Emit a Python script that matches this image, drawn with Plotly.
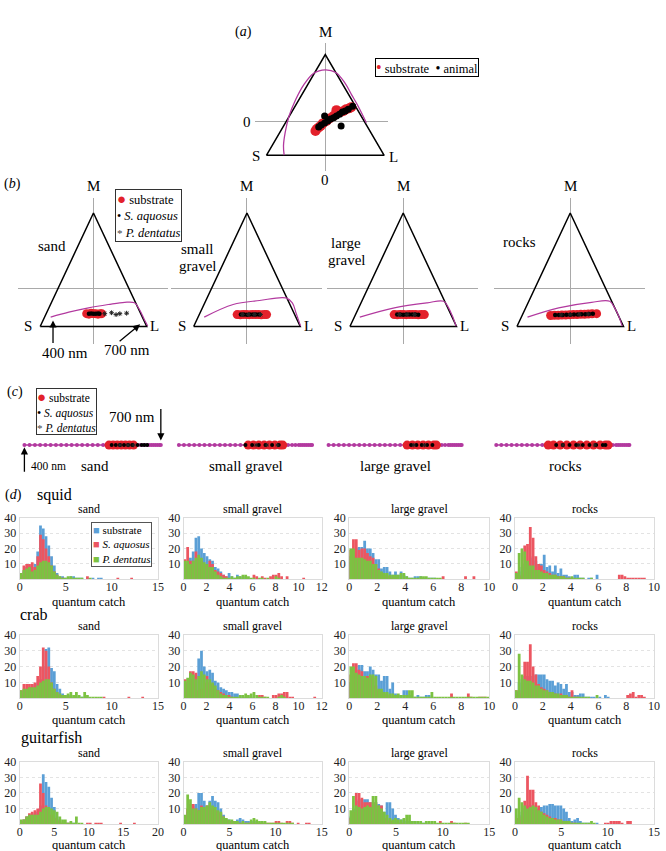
import plotly.graph_objects as go

W, H = 666, 851
SERIF = '"Liberation Serif", "Times New Roman", serif'

SUB_RED = "#e3212b"
LOCUS = "#b2399f"
HIST_SUB, HIST_AQU, HIST_DEN = "#5b9fd6", "#ec5661", "#7cc242"

# Maxwell triangle (S, M, L corners)
tri_x = [-0.7071, 0.0, 0.7071, -0.7071]
tri_y = [-0.4082, 0.8165, -0.4082, -0.4082]

# (a) all substrates / all animals
a_locus_x = [-0.494, -0.502, -0.482, -0.435, -0.355, -0.257, -0.139, 0.0, 0.126, 0.237, 0.315, 0.395, 0.454, 0.493]
a_locus_y = [-0.405, -0.293, -0.133, 0.069, 0.270, 0.451, 0.590, 0.631, 0.599, 0.470, 0.330, 0.189, 0.069, -0.012]
a_sub_x = [-0.118, -0.103, -0.08, -0.056, -0.03, 0.015, 0.05, 0.098, 0.134, 0.181, 0.22, 0.252, 0.29, 0.312]
a_sub_y = [-0.112, -0.088, -0.07, -0.052, -0.02, 0.008, 0.04, 0.069, 0.141, 0.117, 0.13, 0.153, 0.165, 0.177]
a_ani_x = [-0.079, -0.05, -0.008, 0.03, 0.063, 0.1, 0.134, 0.17, 0.205, 0.24, 0.276, 0.329, -0.008, 0.19]
a_ani_y = [-0.064, -0.04, -0.016, 0.01, 0.033, 0.05, 0.069, 0.09, 0.117, 0.13, 0.153, 0.189, 0.069, -0.052]

substrates = ["sand", "small gravel", "large gravel", "rocks"]

# (b) per substrate triangles
b_locus_x = [
    [-0.568, -0.327, -0.065, 0.196, 0.414, 0.545, 0.610, 0.675, 0.720],
    [-0.567, -0.183, 0.166, 0.516, 0.602, 0.65, 0.712],
    [-0.576, -0.118, 0.318, 0.537, 0.602, 0.65, 0.702],
    [-0.567, -0.153, 0.284, 0.524, 0.589, 0.64, 0.69],
]
b_locus_y = [
    [-0.307, -0.254, -0.207, -0.171, -0.147, -0.153, -0.225, -0.332, -0.404],
    [-0.307, -0.171, -0.128, -0.1, -0.153, -0.26, -0.404],
    [-0.307, -0.207, -0.153, -0.136, -0.207, -0.29, -0.404],
    [-0.307, -0.207, -0.147, -0.136, -0.207, -0.29, -0.404],
]
b_sub_x = [
    [-0.09, -0.06, -0.03, 0.0, 0.03, 0.06, 0.09, 0.11],
    [-0.13, -0.09, -0.05, -0.01, 0.03, 0.07, 0.11, 0.15, 0.19, 0.23, 0.26],
    [-0.12, -0.08, -0.04, 0.0, 0.04, 0.08, 0.12, 0.16, 0.2, 0.24, 0.28],
    [-0.26, -0.21, -0.16, -0.11, -0.06, -0.01, 0.04, 0.09, 0.14, 0.19, 0.24, 0.29, 0.35],
]
b_sub_y = [
    [-0.27, -0.275, -0.265, -0.27, -0.27, -0.275, -0.27, -0.27],
    [-0.28, -0.282, -0.278, -0.28, -0.281, -0.279, -0.28, -0.28, -0.282, -0.279, -0.28],
    [-0.28, -0.282, -0.278, -0.28, -0.281, -0.279, -0.28, -0.28, -0.282, -0.279, -0.28],
    [-0.29, -0.288, -0.287, -0.285, -0.284, -0.282, -0.28, -0.279, -0.277, -0.276, -0.274, -0.272, -0.27],
]
b_aqu_x = [
    [-0.06, -0.03, 0.0, 0.03, 0.06, 0.08],
    [-0.08, -0.04, 0.0, 0.04, 0.08, 0.12, 0.16],
    [-0.08, -0.04, 0.0, 0.04, 0.08, 0.12, 0.16, 0.2],
    [-0.2, -0.15, -0.1, -0.05, 0.0, 0.05, 0.1, 0.15, 0.2, 0.25, 0.3],
]
b_aqu_y = [
    [-0.272, -0.268, -0.27, -0.271, -0.269, -0.27],
    [-0.28, -0.279, -0.281, -0.28, -0.279, -0.28, -0.28],
    [-0.28, -0.279, -0.281, -0.28, -0.279, -0.28, -0.28, -0.281],
    [-0.285, -0.284, -0.283, -0.282, -0.281, -0.28, -0.278, -0.277, -0.276, -0.274, -0.272],
]
b_den_x = [
    [0.15, 0.24, 0.30, 0.35, 0.44],
    [-0.06, 0.02, 0.1, 0.18],
    [-0.05, 0.05, 0.15],
    [-0.12, 0.0, 0.12, 0.24],
]
b_den_y = [
    [-0.27, -0.26, -0.28, -0.27, -0.265],
    [-0.28, -0.28, -0.28, -0.28],
    [-0.28, -0.28, -0.28],
    [-0.283, -0.28, -0.277, -0.274],
]

# (c) one-dimensional (dichromat) view, positions along the locus line
c_locus = [0, 0.038, 0.077, 0.115, 0.154, 0.192, 0.231, 0.269, 0.308, 0.346, 0.385, 0.423,
           0.462, 0.5, 0.538, 0.577, 0.615, 0.654, 0.69, 0.725, 0.76, 0.79, 0.82, 0.85,
           0.875, 0.9, 0.915, 0.93, 0.945, 0.96, 0.975, 0.99, 1.0]
c_sub = [
    [0.62, 0.65, 0.68, 0.71, 0.74, 0.77, 0.80],
    [0.52, 0.56, 0.6, 0.64, 0.68, 0.72, 0.76, 0.78],
    [0.59, 0.63, 0.67, 0.71, 0.75, 0.79, 0.81],
    [0.39, 0.43, 0.48, 0.53, 0.58, 0.63, 0.68, 0.73, 0.78, 0.82, 0.84],
]
c_aqu = [
    [0.64, 0.67, 0.7, 0.73, 0.76, 0.79, 0.83, 0.86, 0.88, 0.9],
    [0.5, 0.55, 0.6, 0.65, 0.7, 0.75],
    [0.62, 0.66, 0.7, 0.74, 0.78],
    [0.45, 0.5, 0.55, 0.6, 0.65, 0.7, 0.75, 0.8, 0.82],
]
c_den = [
    [0.7, 0.76, 0.8],
    [0.58, 0.66, 0.74],
    [0.64, 0.72],
    [0.5, 0.62, 0.74],
]

# (d) histograms of quantum catch: counts per bin, bins start at 0
sq_sand_sub = [3, 5, 8, 9, 8, 10, 18, 35, 33, 28, 22, 15, 9, 4, 2, 2, 1, 1, 2, 2, 1, 1, 1, 0, 1, 0, 1, 0, 1, 1]
sq_sand_aqu = [3, 9, 10, 10, 11, 8, 15, 29, 26, 20, 15, 9, 5, 3, 1, 1, 0, 0, 1, 0, 0, 0, 0, 0, 2, 0, 0, 0, 0, 0, 0, 0, 0, 0, 0, 1, 0, 0, 0, 0, 1]
sq_sand_den = [4, 6, 7, 8, 5, 6, 9, 11, 12, 12, 11, 9, 5, 3, 2, 1, 1, 2, 2, 1, 1, 1, 1, 0, 0, 1]
sq_sgr_sub = [8, 10, 14, 18, 27, 28, 20, 17, 15, 13, 12, 8, 7, 5, 3, 2, 4, 2, 1, 3, 2, 1, 2, 1]
sq_sgr_aqu = [13, 21, 12, 12, 18, 14, 12, 10, 9, 12, 10, 6, 5, 4, 3, 2, 0, 0, 0, 0, 0, 0, 0, 0, 0, 3, 2, 0, 2, 1, 0, 2, 3, 3, 4, 2, 0, 2, 0, 0, 0, 0, 0, 1]
sq_sgr_den = [12, 12, 10, 12, 14, 16, 14, 11, 10, 8, 8, 5, 3, 2, 1, 1, 1, 2, 1, 2, 2, 3, 3, 2, 1, 1, 0, 1, 1, 0, 1, 0, 0, 2, 1]
sq_lgr_sub = [15, 18, 20, 21, 21, 25, 20, 20, 17, 13, 13, 7, 8, 8, 5, 3, 5, 3, 5, 3, 2, 1, 1, 2, 2, 2, 1, 1, 1, 1, 1]
sq_lgr_aqu = [19, 26, 26, 19, 20, 20, 17, 15, 14, 10, 7, 4, 3, 2, 2, 1, 1, 0, 0, 0, 0, 0, 0, 0, 0, 0, 0, 0, 0, 0, 0, 0, 0, 2, 0, 0, 0, 0, 0, 0, 0, 2, 0, 0, 2]
sq_lgr_den = [20, 20, 14, 14, 14, 13, 12, 12, 10, 10, 6, 5, 4, 4, 3, 3, 3, 3, 4, 4, 2, 1, 1, 1, 1, 2, 2, 2, 1, 1, 1, 1, 1]
sq_rock_sub = [3, 5, 8, 10, 12, 14, 15, 12, 10, 10, 16, 8, 9, 5, 9, 4, 7, 3, 3, 2, 1, 3, 3, 1, 1, 0, 1, 1, 0, 3]
sq_rock_aqu = [5, 2, 3, 22, 23, 34, 27, 15, 10, 9, 6, 5, 4, 3, 3, 2, 2, 2, 1, 1, 1, 0, 0, 0, 0, 0, 0, 0, 0, 0, 0, 0, 0, 0, 0, 0, 0, 3, 3, 2, 1, 1, 1, 1, 1, 1, 1]
sq_rock_den = [4, 17, 20, 18, 12, 9, 9, 6, 6, 5, 4, 4, 3, 3, 3, 2, 2, 2, 1, 1, 2, 1, 1, 1, 1, 0, 0, 1]

cr_sand_sub = [3, 5, 6, 7, 8, 9, 10, 12, 20, 31, 32, 19, 17, 9, 6, 3, 2, 2, 2, 1, 1, 1, 1, 1, 1]
cr_sand_aqu = [5, 9, 9, 9, 9, 10, 14, 20, 32, 30, 20, 10, 6, 4, 2, 2, 1, 1, 1, 0, 0, 0, 0, 0, 0, 0, 0, 0, 0, 0, 1, 0, 0, 0, 0, 0, 0, 0, 0, 1, 0, 0, 0, 0, 1]
cr_sand_den = [5, 6, 6, 7, 7, 7, 8, 10, 11, 12, 12, 10, 6, 4, 3, 2, 2, 3, 4, 2, 4, 2, 1, 4, 2, 1, 1, 1, 1, 1]
cr_sgr_sub = [8, 10, 12, 14, 15, 25, 30, 20, 17, 18, 16, 11, 10, 7, 6, 5, 4, 4, 3, 3, 2, 1, 1, 1, 1]
cr_sgr_aqu = [12, 12, 17, 17, 16, 5, 6, 10, 14, 10, 9, 6, 5, 4, 3, 2, 2, 1, 0, 0, 0, 0, 0, 0, 0, 0, 0, 2, 2, 1, 0, 0, 2, 2, 3, 3, 4, 4, 1, 1, 0, 0, 0, 0, 0, 0, 0, 1]
cr_sgr_den = [11, 13, 16, 15, 12, 14, 17, 15, 12, 12, 10, 8, 5, 3, 2, 2, 1, 1, 1, 1, 2, 2, 3, 2, 3, 4, 2, 1, 1, 1, 1, 0, 0, 0, 1, 2, 1]
cr_lgr_sub = [10, 15, 18, 21, 21, 17, 17, 20, 18, 15, 15, 11, 14, 14, 6, 10, 3, 2, 2, 5, 5, 2, 1, 1, 2, 1, 1, 2, 2, 1]
cr_lgr_aqu = [15, 22, 22, 18, 17, 12, 14, 14, 13, 8, 5, 4, 3, 2, 1, 1, 0, 0, 0, 0, 0, 0, 0, 0, 0, 0, 0, 0, 0, 0, 0, 0, 0, 0, 0, 0, 3, 0, 0, 0, 0, 0, 3, 1, 0, 0, 1, 1, 1]
cr_lgr_den = [20, 20, 16, 15, 14, 14, 13, 15, 15, 14, 6, 6, 4, 4, 3, 3, 2, 3, 2, 2, 2, 5, 5, 1, 1, 1, 1, 1, 1, 4, 1, 1, 1, 1, 1, 1, 1, 1, 1, 1, 1, 1, 1, 1, 1, 1, 1, 1, 1, 1]
cr_rock_sub = [4, 10, 12, 14, 14, 14, 14, 15, 15, 15, 15, 12, 11, 11, 8, 10, 9, 6, 9, 4, 4, 2, 2, 3, 3, 1, 1, 1, 1, 0, 1, 0, 2, 1]
cr_rock_aqu = [5, 3, 5, 23, 23, 34, 20, 15, 9, 7, 6, 5, 4, 3, 3, 2, 3, 2, 2, 1, 5, 1, 1, 0, 0, 0, 0, 0, 0, 0, 0, 0, 0, 0, 0, 0, 0, 0, 0, 0, 2, 3, 4, 1, 2, 2, 1]
cr_rock_den = [5, 28, 15, 12, 11, 11, 10, 8, 8, 6, 5, 5, 4, 4, 3, 3, 2, 2, 2, 1, 1, 1, 1, 1, 1, 1, 1, 0, 0, 2]

gf_sand_sub = [2, 3, 5, 6, 6, 7, 8, 12, 32, 27, 24, 17, 11, 5, 3, 1, 1, 1, 1, 1]
gf_sand_aqu = [2, 3, 5, 7, 8, 9, 10, 26, 20, 12, 10, 6, 4, 3, 2, 1, 1, 1, 1, 0, 0, 0, 0, 0, 1, 1, 0, 1, 1, 1, 0, 0, 0, 0, 0, 0, 1, 0, 0, 0, 0, 1]
gf_sand_den = [3, 3, 5, 6, 6, 6, 6, 8, 10, 11, 11, 10, 9, 8, 5, 3, 3, 1, 2, 1, 5, 1, 1]
gf_sgr_sub = [4, 8, 10, 12, 13, 20, 20, 15, 12, 15, 18, 15, 14, 10, 6, 3, 3, 2, 2, 3, 4, 3, 2, 2, 2, 2, 2, 1, 1, 1]
gf_sgr_aqu = [5, 10, 13, 13, 10, 9, 12, 10, 12, 12, 10, 9, 8, 7, 5, 3, 2, 2, 2, 1, 1, 1, 1, 1, 1, 1, 1, 1, 1, 1, 1, 1, 1, 2, 2, 1, 0, 2, 2, 1, 0, 1, 0, 0, 1, 1]
gf_sgr_den = [6, 19, 16, 10, 10, 9, 11, 11, 12, 14, 12, 11, 9, 8, 5, 4, 3, 3, 2, 2, 1, 2, 1, 1, 3, 4, 3, 2, 2, 2, 1, 1, 1, 1, 1, 1, 1, 1, 1, 1]
gf_lgr_sub = [5, 10, 15, 16, 16, 16, 16, 14, 14, 14, 13, 12, 8, 14, 14, 10, 6, 4, 3, 3, 2, 2, 2, 2, 1, 1, 1, 1, 0, 1]
gf_lgr_aqu = [4, 8, 20, 20, 17, 14, 14, 14, 14, 14, 12, 12, 4, 3, 2, 2, 1, 1, 1, 1, 0, 0, 0, 0, 0, 0, 0, 0, 0, 0, 0, 0, 2, 0, 0, 0, 2, 1, 0, 0, 0, 1]
gf_lgr_den = [9, 18, 12, 11, 10, 11, 12, 11, 18, 18, 12, 10, 8, 6, 4, 3, 4, 3, 3, 4, 6, 6, 2, 2, 2, 2, 1, 2, 2, 2, 2, 1, 1, 1, 1, 1, 1, 1, 1, 1, 1, 1, 1]
gf_rock_sub = [4, 6, 8, 10, 12, 12, 12, 10, 10, 11, 12, 12, 13, 13, 12, 12, 12, 10, 8, 4, 2, 3, 4, 2, 1, 1, 1, 0, 0, 1]
gf_rock_aqu = [4, 3, 5, 15, 31, 22, 22, 14, 12, 8, 7, 6, 5, 4, 4, 3, 3, 2, 2, 1, 1, 1, 0, 0, 0, 0, 0, 0, 0, 0, 0, 0, 1, 1, 2, 2, 2, 2, 1, 0, 2, 2]
gf_rock_den = [10, 17, 14, 12, 10, 11, 12, 11, 9, 8, 6, 5, 4, 4, 3, 3, 3, 2, 2, 2, 1, 1, 1, 1, 1, 1, 1, 2, 1]

animals = ["squid", "crab", "guitarfish"]
bin_width = [[0.3, 0.24, 0.2, 0.2], [0.3, 0.24, 0.2, 0.2], [0.4, 0.3, 0.3, 0.3]]
x_max = [[15, 12, 10, 10], [15, 12, 10, 10], [20, 15, 15, 15]]
x_step = [[5, 2, 2, 2], [5, 2, 2, 2], [5, 5, 5, 5]]
y_ticks = [10, 20, 30, 40]

hists = [
    [(sq_sand_sub, sq_sand_aqu, sq_sand_den), (sq_sgr_sub, sq_sgr_aqu, sq_sgr_den),
     (sq_lgr_sub, sq_lgr_aqu, sq_lgr_den), (sq_rock_sub, sq_rock_aqu, sq_rock_den)],
    [(cr_sand_sub, cr_sand_aqu, cr_sand_den), (cr_sgr_sub, cr_sgr_aqu, cr_sgr_den),
     (cr_lgr_sub, cr_lgr_aqu, cr_lgr_den), (cr_rock_sub, cr_rock_aqu, cr_rock_den)],
    [(gf_sand_sub, gf_sand_aqu, gf_sand_den), (gf_sgr_sub, gf_sgr_aqu, gf_sgr_den),
     (gf_lgr_sub, gf_lgr_aqu, gf_lgr_den), (gf_rock_sub, gf_rock_aqu, gf_rock_den)],
]

fig = go.Figure()
axis_count = 0


def new_axes(box, xrange, yrange, xstyle=None, ystyle=None):
    global axis_count
    axis_count += 1
    s = "" if axis_count == 1 else str(axis_count)
    x0, x1, y0, y1 = box
    base = dict(showgrid=False, zeroline=False, showticklabels=False, ticks="", ticklen=0,
                showline=False, fixedrange=True)
    xa = dict(base, domain=[x0 / W, x1 / W], range=xrange, anchor="y" + s)
    ya = dict(base, domain=[1 - y1 / H, 1 - y0 / H], range=yrange, anchor="x" + s)
    xa.update(xstyle or {})
    ya.update(ystyle or {})
    fig.update_layout({"xaxis" + s: xa, "yaxis" + s: ya})
    return "x" + s, "y" + s


def placed_axes(box, centre, scale, style=None):
    x0, x1, y0, y1 = box
    cx, cy = centre
    kx, ky = scale
    return new_axes(box, [(x0 - cx) / kx, (x1 - cx) / kx], [(cy - y1) / ky, (cy - y0) / ky], style, style)


def txt(s, x, y, size=15, xanchor="center", yanchor="middle", **kw):
    fig.add_annotation(text=s, x=x / W, y=1 - y / H, xref="paper", yref="paper", showarrow=False,
                       font=dict(family=SERIF, size=size, color="black"),
                       xanchor=xanchor, yanchor=yanchor, **kw)


def arrow(x, y, x_tail, y_tail):
    fig.add_annotation(text="", x=x / W, y=1 - y / H, xref="paper", yref="paper",
                       ax=x_tail - x, ay=y_tail - y, showarrow=True, arrowhead=2,
                       arrowsize=1.1, arrowwidth=1.3, arrowcolor="black")


def line(xa, ya, x, y, color, width):
    fig.add_trace(go.Scatter(x=x, y=y, mode="lines", line=dict(color=color, width=width),
                             xaxis=xa, yaxis=ya, showlegend=False, hoverinfo="skip"))


def dots(xa, ya, x, y, color, size, symbol="circle", edge=0):
    fig.add_trace(go.Scatter(x=x, y=y, mode="markers", xaxis=xa, yaxis=ya, showlegend=False,
                             marker=dict(color=color, size=size, symbol=symbol,
                                         line=dict(width=edge, color=color))))


cross = dict(zeroline=True, zerolinecolor="#a9a9a9", zerolinewidth=1)

legend_b = ('<span style="color:%s;font-size:15px">●</span> substrate<br>'
            '<span style="font-size:12px">•</span> <i>S. aquosus</i><br>'
            '<span style="color:#444;font-size:11px">*</span> <i>P. dentatus</i>' % SUB_RED)

# ---------------- (a)
xa, ya = placed_axes((255, 390, 36.7, 165), (326.7, 115.7), (84.4, 83.0), cross)
line(xa, ya, tri_x, tri_y, "black", 1.5)
fig.add_trace(go.Scatter(x=a_locus_x, y=a_locus_y, mode="lines", line=dict(color=LOCUS, width=1.3, shape="spline"),
                         xaxis=xa, yaxis=ya, showlegend=False))
dots(xa, ya, a_sub_x, a_sub_y, SUB_RED, 10)
dots(xa, ya, a_ani_x, a_ani_y, "black", 7)
txt("(<i>a</i>)", 244, 25, 14)
txt("M", 326.7, 25)
txt("S", 256.5, 150)
txt("L", 395.5, 151)
txt("0", 247, 116)
txt("0", 326.7, 174)
txt('<span style="color:%s;font-size:16px">•</span> substrate  <span style="font-size:14px">•</span> animal' % SUB_RED,
    377, 51.5, 12.5, xanchor="left", yanchor="top", align="left",
    bordercolor="black", borderwidth=1, borderpad=0, bgcolor="white")

# ---------------- (b)
b_centres = [91.7, 247.3, 405.7, 575.0]
for i, cx in enumerate(b_centres):
    xa, ya = placed_axes((cx - 77, cx + 76, 193, 340), (cx, 284), (76.4, 93.4), cross)
    line(xa, ya, tri_x, tri_y, "black", 1.5)
    fig.add_trace(go.Scatter(x=b_locus_x[i], y=b_locus_y[i], mode="lines",
                             line=dict(color=LOCUS, width=1.2, shape="spline"),
                             xaxis=xa, yaxis=ya, showlegend=False))
    dots(xa, ya, b_sub_x[i], b_sub_y[i], SUB_RED, 9)
    dots(xa, ya, b_aqu_x[i], b_aqu_y[i], "black", 4.5)
    dots(xa, ya, b_den_x[i], b_den_y[i], "#222222", 4, "asterisk-open", 1)
    txt("M", cx, 180)
    txt("S", cx - 66, 322)
    txt("L", cx + 62, 322)

txt("(<i>b</i>)", 10, 178, 14)
txt("sand", 50, 241)
txt("small", 197, 244)
txt("gravel", 197, 261)
txt("large", 348, 238)
txt("gravel", 348, 255)
txt("rocks", 524, 237)
arrow(50.7, 316, 50.7, 340)
txt("400 nm", 63, 349)
arrow(139, 320, 117, 338)
txt("700 nm", 126, 346)
txt(legend_b, 113.5, 184, 12.5, xanchor="left", yanchor="top", align="left",
    bordercolor="#333333", borderwidth=1, borderpad=1, bgcolor="white")

# ---------------- (c)
c_lines = [(21.7, 160.0), (178.3, 313.3), (330.0, 465.0), (500.0, 635.0)]
c_label_x = [93, 246, 398, 570]
for i, (x0, x1) in enumerate(c_lines):
    xa, ya = placed_axes((x0 - 6, x1 + 6, 430, 454), (x0, 441.7), (x1 - x0, 10), dict(visible=False))
    fig.add_trace(go.Scatter(x=c_locus, y=[0] * len(c_locus), mode="lines+markers",
                             line=dict(color=LOCUS, width=1.5), marker=dict(color=LOCUS, size=4),
                             xaxis=xa, yaxis=ya, showlegend=False, cliponaxis=False))
    dots(xa, ya, c_sub[i], [0] * len(c_sub[i]), SUB_RED, 9)
    dots(xa, ya, c_aqu[i], [0] * len(c_aqu[i]), "black", 4)
    dots(xa, ya, c_den[i], [0] * len(c_den[i]), "#222222", 3.5, "asterisk-open", 1)
    txt(substrates[i], c_label_x[i], 463)

txt("(<i>c</i>)", 12, 388, 14)
txt(legend_b, 33, 384.5, 11.5, xanchor="left", yanchor="top", align="left",
    bordercolor="#333333", borderwidth=1, borderpad=0, bgcolor="white")
arrow(160, 437, 160, 404)
txt("700 nm", 131, 413)
arrow(21.7, 444, 21.7, 470)
txt("400 nm", 46, 463, 11.5)

# ---------------- (d)
cols = [(17, 157), (183, 323), (351, 493), (519, 660)]
rows = [(515, 577), (633, 697), (761, 824)]
name_y = [492, 613, 737]
name_x = [32, 15, 16]
caption_y = [600, 719, 845]
for r in range(3):
    y0, y1 = rows[r]
    for c in range(4):
        x0, x1 = cols[c]
        xs = dict(showline=True, mirror=True, linecolor="#dcdcdc", linewidth=1,
                  showticklabels=True, tick0=0, dtick=x_step[r][c], ticklabelstandoff=-4,
                  tickfont=dict(family=SERIF, size=12, color="#222"))
        ys = dict(showline=True, mirror=True, linecolor="#dcdcdc", linewidth=1,
                  showgrid=True, gridcolor="#e3e3e3", griddash="dot",
                  showticklabels=True, tickvals=y_ticks,
                  tickfont=dict(family=SERIF, size=12, color="#222"))
        xa, ya = new_axes((x0, x1, y0, y1), [0, x_max[r][c]], [0, 40], xs, ys)
        w = bin_width[r][c]
        for counts, colour, nm in zip(hists[r][c], (HIST_SUB, HIST_AQU, HIST_DEN),
                                      ("substrate", "S. aquosus", "P. dentatus")):
            fig.add_trace(go.Bar(x=[w * (k + 0.5) for k in range(len(counts))], y=counts, width=w,
                                 marker=dict(color=colour, line=dict(width=0)), name=nm,
                                 xaxis=xa, yaxis=ya, showlegend=False))
        txt(substrates[c], (x0 + x1) / 2, y0 - 9, 12)
        txt("quantum catch", (x0 + x1) / 2, caption_y[r], 12.5)
    txt(animals[r], name_x[r], name_y[r], 16, xanchor="left")

txt("(<i>d</i>)", 11, 492, 14)
txt('<span style="color:%s">■</span> substrate<br>'
    '<span style="color:%s">■</span> <i>S. aquosus</i><br>'
    '<span style="color:%s">■</span> <i>P. dentatus</i>' % (HIST_SUB, HIST_AQU, HIST_DEN),
    89, 519, 11, xanchor="left", yanchor="top", align="left",
    bordercolor="#555555", borderwidth=1, borderpad=1, bgcolor="white")

fig.update_layout(width=W, height=H, margin=dict(l=0, r=0, t=0, b=0),
                  paper_bgcolor="white", plot_bgcolor="white", barmode="overlay",
                  showlegend=False, font=dict(family=SERIF, color="black"))

# the page's default body margin would push the figure off the window
fig.write_html("out.html", config={"displayModeBar": False},
               post_script="document.body.style.margin = '0px';")
